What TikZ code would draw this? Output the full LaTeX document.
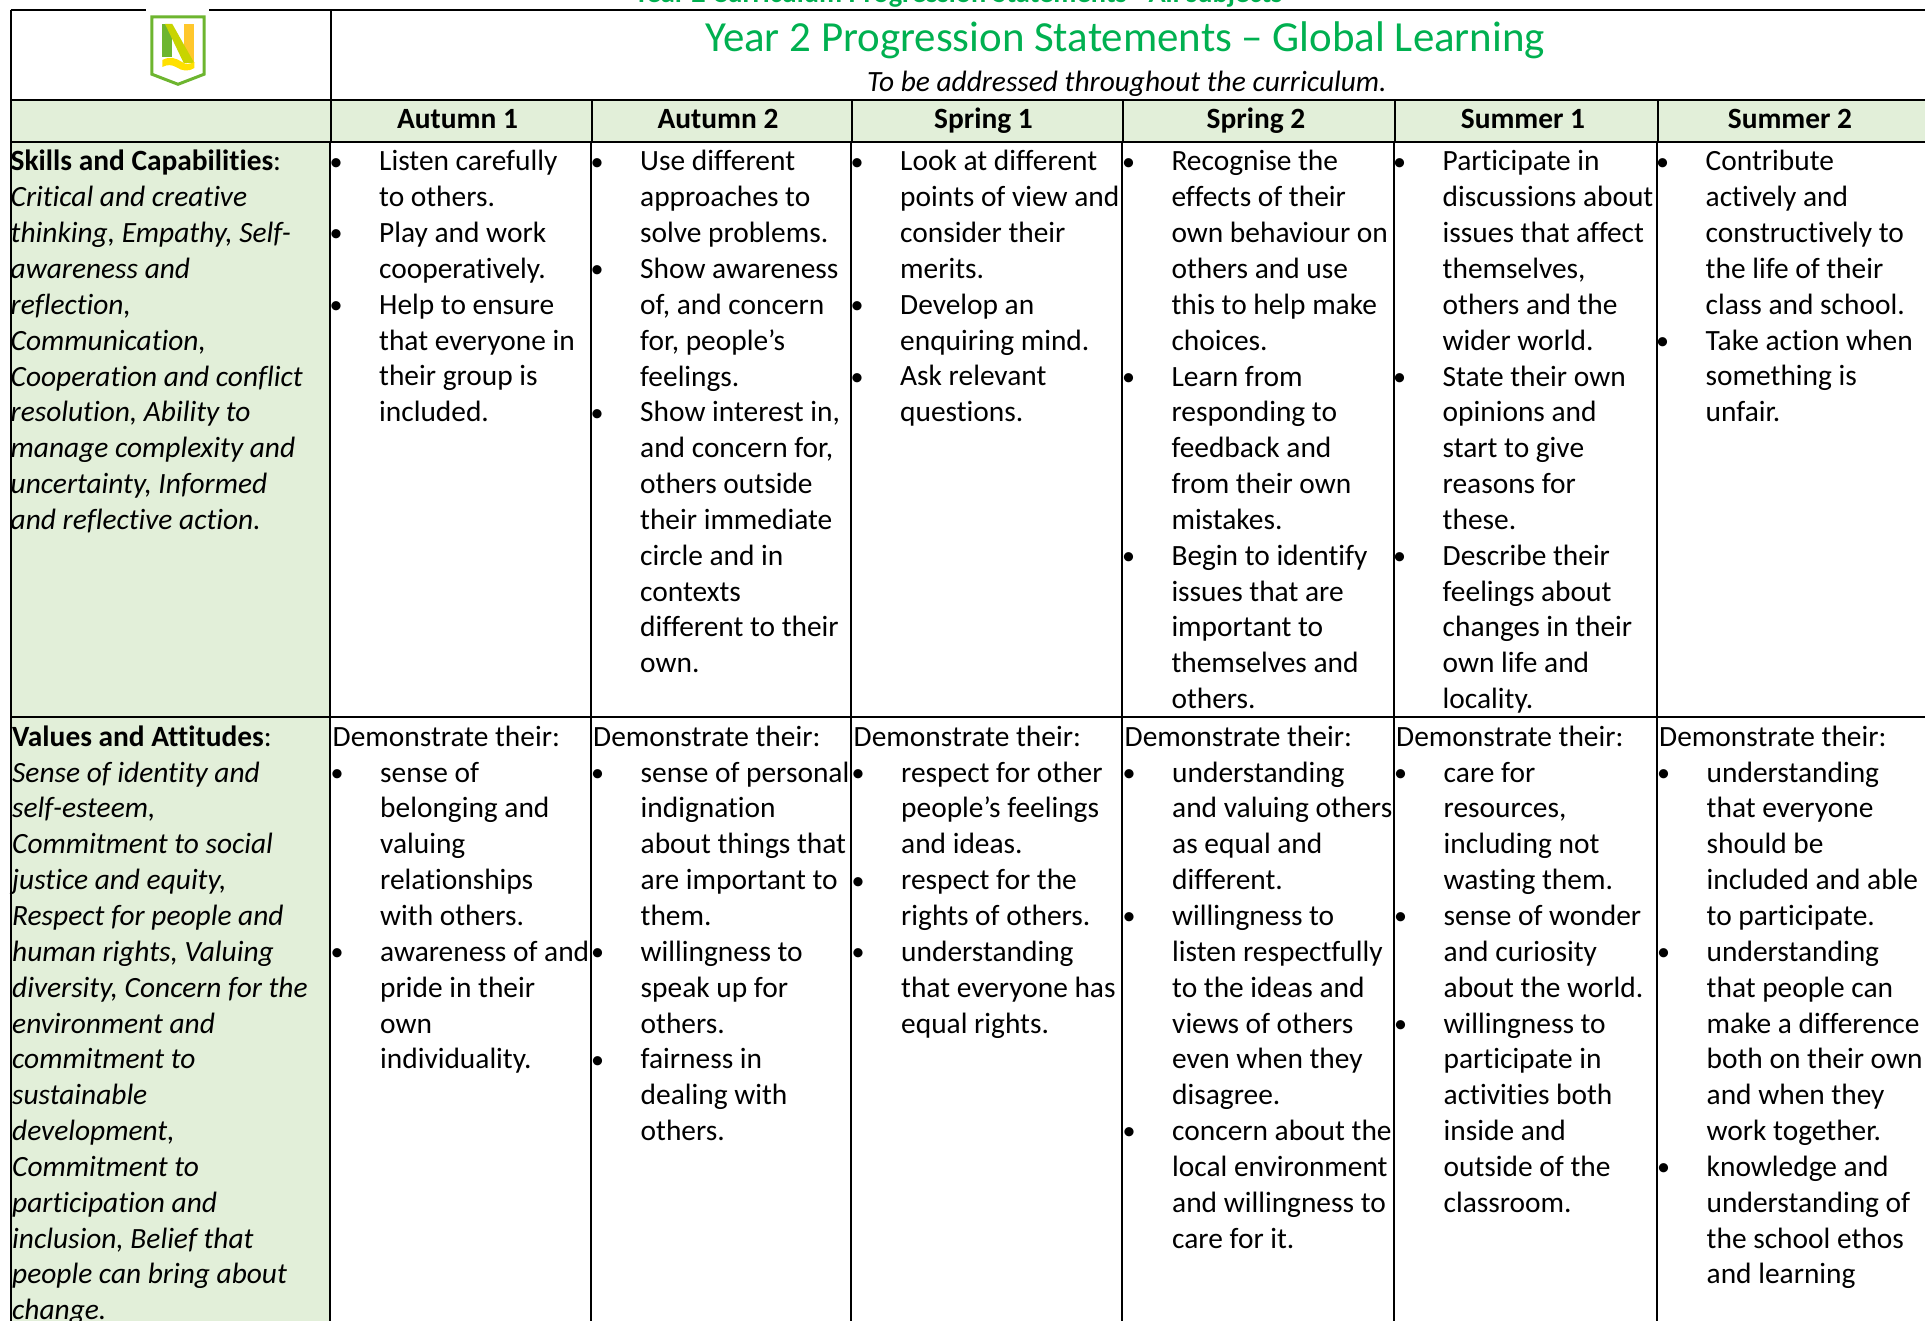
\documentclass[tikz,border=0pt]{standalone}
\usepackage{fontspec}
\setmainfont[Ligatures=NoCommon]{Carlito}
\definecolor{panel}{HTML}{E2EFD9}
\definecolor{titlegreen}{HTML}{00B050}
\definecolor{logogreen}{HTML}{6DB52F}
\definecolor{logolime}{HTML}{C8D400}
\definecolor{logoorange}{HTML}{FFC72C}
\definecolor{logoyellow}{HTML}{FFE000}
\newcommand\bodyfont{\fontsize{29.4}{35.85}\selectfont}
\newcommand\Fst{\rule{0pt}{24pt}}
\newcommand\B{\hbox to 47.5pt{\kern-2pt\raisebox{0.6pt}{\fontsize{26}{26}\selectfont\textbullet}\hss}}
\newcommand\N{\hbox to 47.5pt{\hss}}
\tikzset{
  rowtext/.style={anchor=north west,inner sep=0pt,align=left,font=\bodyfont},
  headtext/.style={anchor=base,inner sep=0pt,font=\bodyfont\bfseries},
  rule/.style={line width=1.7pt,black},
}
\begin{document}
\begin{tikzpicture}[x=1pt,y=-1pt]
\useasboundingbox (0,0) rectangle (1925,1321);
\clip (0,0) rectangle (1925,1321);
% fills
\fill[panel] (10.7,100) rectangle (1925,142);
\fill[panel] (10.7,142) rectangle (330,1321);
% grid
\draw[rule] (10.7,10) -- (1925,10);
\draw[rule] (10.7,100) -- (1925,100);
\draw[rule] (10.7,142) -- (1925,142);
\draw[rule] (10.7,717) -- (1925,717);
\draw[rule] (10.7,10) -- (10.7,1321);
\draw[rule] (331,10) -- (331,142);
\foreach \x in {592,852,1123,1395,1658} \draw[rule] (\x,100) -- (\x,142);
\foreach \x in {330,591,851,1122,1394,1657} \draw[rule] (\x,142) -- (\x,1321);
% logo
\fill[white] (146,8) rectangle (209,30);
\fill[logogreen] (162.3,24) rectangle (172.3,56.7);
\fill[logoorange] (183.7,24) rectangle (194.3,63);
\fill[logolime] (165,24) -- (172.3,24) -- (194.3,63) -- (183.7,63) -- cycle;
\fill[logoyellow] (162.3,60) .. controls (170,56) and (176,58) .. (182,62) .. controls (186,65) and (190,64) .. (194.3,62) -- (194.3,68) .. controls (188,72) and (182,71) .. (176,67) .. controls (172,65) and (168,64) .. (162.3,67) -- cycle;
\draw[line width=3pt,color=logogreen] (151.8,16.8) -- (204.2,16.8) -- (204.2,74.2) -- (178,84.3) -- (151.8,74.2) -- cycle;
% top strip
\node[anchor=base west,inner sep=0pt,font=\fontsize{28.4}{30}\selectfont\bfseries,text=titlegreen] (strip) at (634,3) {Year 2 Curriculum Progression Statements - All subjects};
\node[anchor=base west,inner sep=0pt,font=\fontsize{42.9}{45}\selectfont,text=titlegreen] (title) at (705,52) {Year 2 Progression Statements – Global Learning};
\node[anchor=base west,inner sep=0pt,font=\bodyfont\itshape] (subtitle) at (867,91.5) {To be addressed throughout the curriculum.};
% heads
\node[headtext] (h1) at (457.5,128.5) {Autumn 1};
\node[headtext] (h2) at (718,128.5) {Autumn 2};
\node[headtext] (h3) at (983.5,128.5) {Spring 1};
\node[headtext] (h4) at (1256,128.5) {Spring 2};
\node[headtext] (h5) at (1523,128.5) {Summer 1};
\node[headtext] (h6) at (1790,128.5) {Summer 2};
% row 1
\node[rowtext] (a0) at (10.5,146.7) {\Fst\textbf{Skills and Capabilities}:\\ \textit{Critical and creative}\\ \textit{thinking, Empathy, Self-}\\ \textit{awareness and}\\ \textit{reflection,}\\ \textit{Communication,}\\ \textit{Cooperation and conflict}\\ \textit{resolution, Ability to}\\ \textit{manage complexity and}\\ \textit{uncertainty, Informed}\\ \textit{and reflective action.}};
\node[rowtext] (a1) at (331.5,146.7) {\Fst\B Listen carefully\\ \N to others.\\ \B Play and work\\ \N cooperatively.\\ \B Help to ensure\\ \N that everyone in\\ \N their group is\\ \N included.};
\node[rowtext] (a2) at (592.5,146.7) {\Fst\B Use different\\ \N approaches to\\ \N solve problems.\\ \B Show awareness\\ \N of, and concern\\ \N for, people’s\\ \N feelings.\\ \B Show interest in,\\ \N and concern for,\\ \N others outside\\ \N their immediate\\ \N circle and in\\ \N contexts\\ \N different to their\\ \N own.};
\node[rowtext] (a3) at (852.5,146.7) {\Fst\B Look at different\\ \N points of view and\\ \N consider their\\ \N merits.\\ \B Develop an\\ \N enquiring mind.\\ \B Ask relevant\\ \N questions.};
\node[rowtext] (a4) at (1123.8,146.7) {\Fst\B Recognise the\\ \N effects of their\\ \N own behaviour on\\ \N others and use\\ \N this to help make\\ \N choices.\\ \B Learn from\\ \N responding to\\ \N feedback and\\ \N from their own\\ \N mistakes.\\ \B Begin to identify\\ \N issues that are\\ \N important to\\ \N themselves and\\ \N others.};
\node[rowtext] (a5) at (1395,146.7) {\Fst\B Participate in\\ \N discussions about\\ \N issues that affect\\ \N themselves,\\ \N others and the\\ \N wider world.\\ \B State their own\\ \N opinions and\\ \N start to give\\ \N reasons for\\ \N these.\\ \B Describe their\\ \N feelings about\\ \N changes in their\\ \N own life and\\ \N locality.};
\node[rowtext] (a6) at (1658,146.7) {\Fst\B Contribute\\ \N actively and\\ \N constructively to\\ \N the life of their\\ \N class and school.\\ \B Take action when\\ \N something is\\ \N unfair.};
% row 2
\node[rowtext] (b0) at (12,722) {\Fst\textbf{Values and Attitudes}:\\ \textit{Sense of identity and}\\ \textit{self-esteem,}\\ \textit{Commitment to social}\\ \textit{justice and equity,}\\ \textit{Respect for people and}\\ \textit{human rights, Valuing}\\ \textit{diversity, Concern for the}\\ \textit{environment and}\\ \textit{commitment to}\\ \textit{sustainable}\\ \textit{development,}\\ \textit{Commitment to}\\ \textit{participation and}\\ \textit{inclusion, Belief that}\\ \textit{people can bring about}\\ \textit{change.}};
\node[rowtext] (b1) at (332.5,722) {\Fst Demonstrate their:\\ \B sense of\\ \N belonging and\\ \N valuing\\ \N relationships\\ \N with others.\\ \B awareness of and\\ \N pride in their\\ \N own\\ \N individuality.};
\node[rowtext] (b2) at (593,722) {\Fst Demonstrate their:\\ \B sense of personal\\ \N indignation\\ \N about things that\\ \N are important to\\ \N them.\\ \B willingness to\\ \N speak up for\\ \N others.\\ \B fairness in\\ \N dealing with\\ \N others.};
\node[rowtext] (b3) at (853.5,722) {\Fst Demonstrate their:\\ \B respect for other\\ \N people’s feelings\\ \N and ideas.\\ \B respect for the\\ \N rights of others.\\ \B understanding\\ \N that everyone has\\ \N equal rights.};
\node[rowtext] (b4) at (1124.5,722) {\Fst Demonstrate their:\\ \B understanding\\ \N and valuing others\\ \N as equal and\\ \N different.\\ \B willingness to\\ \N listen respectfully\\ \N to the ideas and\\ \N views of others\\ \N even when they\\ \N disagree.\\ \B concern about the\\ \N local environment\\ \N and willingness to\\ \N care for it.};
\node[rowtext] (b5) at (1396,722) {\Fst Demonstrate their:\\ \B care for\\ \N resources,\\ \N including not\\ \N wasting them.\\ \B sense of wonder\\ \N and curiosity\\ \N about the world.\\ \B willingness to\\ \N participate in\\ \N activities both\\ \N inside and\\ \N outside of the\\ \N classroom.};
\node[rowtext] (b6) at (1659,722) {\Fst Demonstrate their:\\ \B understanding\\ \N that everyone\\ \N should be\\ \N included and able\\ \N to participate.\\ \B understanding\\ \N that people can\\ \N make a difference\\ \N both on their own\\ \N and when they\\ \N work together.\\ \B knowledge and\\ \N understanding of\\ \N the school ethos\\ \N and learning};
\end{tikzpicture}
\end{document}
